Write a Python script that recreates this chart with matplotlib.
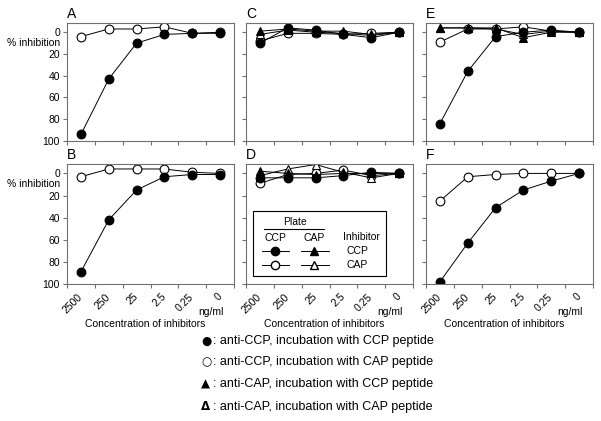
import matplotlib
matplotlib.use("Agg")
import matplotlib.pyplot as plt
from matplotlib.lines import Line2D

plt.rcParams["font.family"] = ["Liberation Sans", "DejaVu Sans"]

# concentrations of inhibitor (ng/ml)
conc_labels = ["2500", "250", "25", "2.5", "0.25", "0"]
y_ticks = [0, 20, 40, 60, 80, 100]

# % inhibition
# cc = anti-CCP / CCP peptide, ca = anti-CCP / CAP peptide
# ac = anti-CAP / CCP peptide, aa = anti-CAP / CAP peptide
a_cc = [94, 43, 10, 2, 1, 1]
a_ca = [4, -3, -3, -5, 1, 0]
b_cc = [89, 42, 15, 3, 1, 1]
b_ca = [3, -4, -4, -4, -1, 0]
c_cc = [10, -4, -2, 2, 5, 0]
c_ca = [8, 1, 1, 2, 1, 0]
c_ac = [-1, -3, -1, -1, 2, 0]
c_aa = [2, -2, 0, 1, 3, 0]
d_cc = [4, 4, 4, 2, -1, 0]
d_ca = [9, 1, 0, -3, 2, 0]
d_ac = [-2, 0, 1, 0, 0, 0]
d_aa = [2, -4, -8, -1, 4, 0]
e_cc = [84, 36, 4, 0, -2, 0]
e_ca = [9, -3, -3, -5, -1, 0]
e_ac = [-4, -4, -4, 5, 0, 0]
e_aa = [-4, -4, -3, 2, -1, 0]
f_cc = [98, 63, 31, 15, 7, 0]
f_ca = [25, 3, 1, 0, 0, 0]

styles = {
    "ca": dict(marker="o", mfc="white"),
    "aa": dict(marker="^", mfc="white"),
    "ac": dict(marker="^", mfc="black"),
    "cc": dict(marker="o", mfc="black"),
}

panels = {
    "A": {"ca": a_ca, "cc": a_cc},
    "B": {"ca": b_ca, "cc": b_cc},
    "C": {"ca": c_ca, "aa": c_aa, "ac": c_ac, "cc": c_cc},
    "D": {"ca": d_ca, "aa": d_aa, "ac": d_ac, "cc": d_cc},
    "E": {"ca": e_ca, "aa": e_aa, "ac": e_ac, "cc": e_cc},
    "F": {"ca": f_ca, "cc": f_cc},
}

fig = plt.figure(figsize=(6.01, 4.21), dpi=100)
W, H = 601.0, 421.0
lefts = {"A": 67, "B": 67, "C": 246, "D": 246, "E": 426, "F": 426}
tops = {"A": 23, "C": 23, "E": 23, "B": 164, "D": 164, "F": 164}
bottoms = {"A": 141, "C": 141, "E": 141, "B": 284, "D": 284, "F": 284}
width = 167

gray = "#707070"
xs = [i + 0.5 for i in range(len(conc_labels))]
axes = {}
for name, series in panels.items():
    l, t, b = lefts[name], tops[name], bottoms[name]
    ax = fig.add_axes([l / W, 1 - b / H, width / W, (b - t) / H])
    axes[name] = ax
    for key, vals in series.items():
        st = styles[key]
        ax.plot(xs, vals, color="black", lw=0.7, marker=st["marker"],
                mfc=st["mfc"], mec="black", mew=0.8, ms=6.3)
    ax.set_xlim(0, 6)
    ax.set_ylim(100, -8.5)
    for s in ax.spines.values():
        s.set_color(gray)
        s.set_linewidth(0.8)
    ax.set_xticks(range(7))
    ax.set_xticklabels([])
    ax.set_yticks(y_ticks)
    ax.tick_params(axis="both", direction="out", length=3, width=0.8,
                   color=gray, labelsize=7.5, pad=2)
    if name in ("A", "B"):
        ax.set_yticklabels([str(v) for v in y_ticks])
        ax.text(-0.04, 10, "% inhibition", transform=ax.get_yaxis_transform(),
                ha="right", va="center", fontsize=7.5)
    else:
        ax.set_yticklabels([])
    if name in ("B", "D", "F"):
        ax.set_xticks(xs, minor=True)
        ax.set_xticklabels(conc_labels, minor=True, rotation=45,
                           ha="right", va="center", rotation_mode="anchor",
                           fontsize=7.5)
        ax.tick_params(axis="x", which="minor", length=0, pad=8)
        ax.text(0.94, -0.235, "ng/ml", transform=ax.transAxes,
                ha="right", va="center", fontsize=7.5)
        ax.text(0.47, -0.33, "Concentration of inhibitors",
                transform=ax.transAxes, ha="center", va="center", fontsize=7.5)
    ax.text(0.0, 1.02, name, transform=ax.transAxes, ha="left",
            va="bottom", fontsize=10)

# key inside panel D
axd = axes["D"]
def fx(x):
    return (x - 246) / 167.0
def fy(y):
    return (284 - y) / 120.0

axd.add_patch(plt.Rectangle((fx(253), fy(276)), fx(386) - fx(253),
                            fy(211) - fy(276), transform=axd.transAxes,
                            fill=False, ec="black", lw=0.8))
axd.text(fx(295), fy(222), "Plate", transform=axd.transAxes,
         ha="center", va="center", fontsize=7.5)
axd.add_line(Line2D([fx(264), fx(324)], [fy(229), fy(229)],
                    transform=axd.transAxes, color="black", lw=0.8))
axd.text(fx(275), fy(238), "CCP", transform=axd.transAxes,
         ha="center", va="center", fontsize=7.5)
axd.text(fx(314), fy(238), "CAP", transform=axd.transAxes,
         ha="center", va="center", fontsize=7.5)
axd.text(fx(361), fy(237), "Inhibitor", transform=axd.transAxes,
         ha="center", va="center", fontsize=7.5)
for yy, fill, lab in [(251, "black", "CCP"), (265, "white", "CAP")]:
    axd.add_line(Line2D([fx(262), fx(275), fx(289)], [fy(yy)] * 3,
                        transform=axd.transAxes, color="black", lw=0.7,
                        marker="o", markevery=[1], mfc=fill, mec="black", ms=6))
    axd.add_line(Line2D([fx(301), fx(314), fx(329)], [fy(yy)] * 3,
                        transform=axd.transAxes, color="black", lw=0.7,
                        marker="^", markevery=[1], mfc=fill, mec="black", ms=6))
    axd.text(fx(357), fy(yy), lab, transform=axd.transAxes,
             ha="center", va="center", fontsize=7.5)

# symbol key under the panels
key_symbols = ["\u25cf", "\u25cb", "\u25b2", "\u0394"]
key_texts = [
    ": anti-CCP, incubation with CCP peptide",
    ": anti-CCP, incubation with CAP peptide",
    ": anti-CAP, incubation with CCP peptide",
    ": anti-CAP, incubation with CAP peptide",
]
key_y = [341, 362, 384, 407]
for sym, txt, yy in zip(key_symbols, key_texts, key_y):
    fig.text(201 / W, 1 - yy / H, sym, ha="left", va="center",
             fontsize=8.5, family="DejaVu Sans",
             weight="bold" if sym == "\u0394" else "normal")
    fig.text(213 / W, 1 - yy / H, txt, ha="left", va="center", fontsize=9)

fig.savefig("out.png", dpi=100)
